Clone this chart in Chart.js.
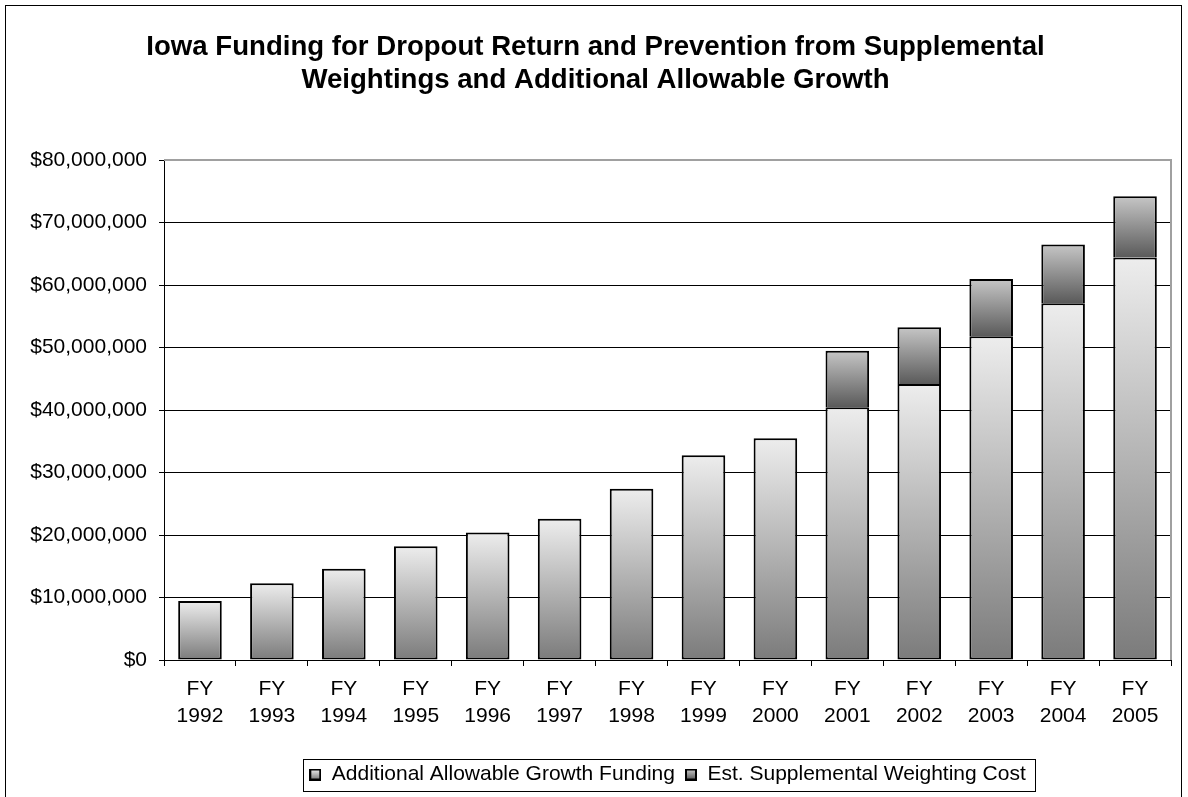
<!DOCTYPE html>
<html>
<head>
<meta charset="utf-8">
<title>Iowa Dropout Funding</title>
<script src="https://cdn.jsdelivr.net/npm/chart.js@4.4.1/dist/chart.umd.min.js"></script>
<style>
    html, body { margin: 0; padding: 0; background: #fff; }
    #wrap { width: 1188px; height: 797px; position: relative; }
</style>
</head>
<body>
<div id="wrap"><canvas id="chart" width="1188" height="797"></canvas></div>
<script>
const FONT = '"Liberation Sans", Arial, sans-serif';

const fiscalYears = ['1992', '1993', '1994', '1995', '1996', '1997', '1998',
    '1999', '2000', '2001', '2002', '2003', '2004', '2005'];

// dollars per fiscal year
const growthFunding = [9450000, 12300000, 14600000, 18200000, 20400000, 22600000, 27400000,
    32750000, 35500000, 40450000, 44150000, 51800000, 57100000, 64400000];
const supplementalCost = [null, null, null, null, null, null, null,
    null, null, 9050000, 9100000, 9150000, 9400000, 9800000];

const yTicks = [0, 10000000, 20000000, 30000000, 40000000, 50000000, 60000000, 70000000, 80000000];

const SERIES_NAMES = ['Additional Allowable Growth Funding', 'Est. Supplemental Weighting Cost'];
const SHADES = [
    { top: '#ededed', bottom: '#7b7b7b' },
    { top: '#c6c6c6', bottom: '#5a5a5a' }
];

// vertical gradient spanning just the one bar segment
function barFill(shade) {
    return (ctx) => {
        const chart = ctx.chart;
        if (!chart.chartArea || ctx.type !== 'data') return shade.bottom;
        const ds = chart.data.datasets;
        let base = 0;
        for (let i = 0; i < ctx.datasetIndex; i++) base += ds[i].data[ctx.dataIndex] || 0;
        const v = ds[ctx.datasetIndex].data[ctx.dataIndex] || 0;
        const y = chart.scales.y;
        const y0 = y.getPixelForValue(base + v);
        const y1 = y.getPixelForValue(base);
        if (y1 - y0 < 1) return shade.bottom;
        const g = chart.ctx.createLinearGradient(0, y0, 0, y1);
        g.addColorStop(0, shade.top);
        g.addColorStop(1, shade.bottom);
        return g;
    };
}

function legendSwatch(shade) {
    const c = document.createElement('canvas');
    c.width = 12; c.height = 12;
    const x = c.getContext('2d');
    const g = x.createLinearGradient(0, 1, 0, 11);
    g.addColorStop(0, shade.top);
    g.addColorStop(1, shade.bottom);
    x.fillStyle = g;
    x.fillRect(1, 1, 10, 10);
    x.strokeStyle = '#000';
    x.lineWidth = 2;
    x.strokeRect(1, 1, 10, 10);
    return c;
}

const swatches = SHADES.map(legendSwatch);

const frames = {
    id: 'frames',
    beforeDraw(chart) {
        const c = chart.ctx;
        c.save();
        c.strokeStyle = '#000';
        c.lineWidth = 1;
        c.strokeRect(5.5, 5.5, 1176, 820);
        c.restore();
    },
    afterDraw(chart) {
        const c = chart.ctx;
        const a = chart.chartArea;
        c.save();
        // plot area outline on the open sides
        c.strokeStyle = '#a0a0a0';
        c.lineWidth = 2;
        c.beginPath();
        c.moveTo(a.left, a.top);
        c.lineTo(a.right, a.top);
        c.lineTo(a.right, a.bottom);
        c.stroke();
        // box round the legend
        const boxes = chart.legend.legendHitBoxes;
        if (boxes && boxes.length) {
            const left = Math.min(...boxes.map(b => b.left)) - 6;
            const right = Math.max(...boxes.map(b => b.left + b.width)) + 10;
            const mid = boxes[0].top + boxes[0].height / 2;
            c.strokeStyle = '#000';
            c.lineWidth = 1;
            c.strokeRect(Math.round(left) + 0.5, Math.round(mid - 16) + 0.5,
                Math.round(right - left), 32);
        }
        c.restore();
    }
};

new Chart(document.getElementById('chart'), {
    type: 'bar',
    data: {
        labels: fiscalYears.map(y => ['FY', y]),
        datasets: [
            {
                label: SERIES_NAMES[0],
                data: growthFunding,
                backgroundColor: barFill(SHADES[0]),
                borderColor: '#000',
                borderWidth: 2,
                borderSkipped: false,
                pointStyle: swatches[0]
            },
            {
                label: SERIES_NAMES[1],
                data: supplementalCost,
                backgroundColor: barFill(SHADES[1]),
                borderColor: '#000',
                borderWidth: 2,
                borderSkipped: 'bottom',
                pointStyle: swatches[1]
            }
        ]
    },
    options: {
        responsive: false,
        animation: false,
        events: [],
        datasets: { bar: { categoryPercentage: 1, barPercentage: 0.606 } },
        layout: { padding: { left: 20, right: 17, top: 0, bottom: 2 } },
        plugins: {
            title: {
                display: true,
                text: ['Iowa Funding for Dropout Return and Prevention from Supplemental',
                    'Weightings and Additional Allowable Growth'],
                color: '#000',
                font: { family: FONT, size: 27.6, weight: 'bold', lineHeight: '33px' },
                padding: { top: 31, bottom: 63 }
            },
            legend: {
                position: 'bottom',
                fullSize: false,
                labels: {
                    color: '#000',
                    font: { family: FONT, size: 21 },
                    usePointStyle: true,
                    boxWidth: 12,
                    boxHeight: 12,
                    padding: 10
                }
            },
            tooltip: { enabled: false }
        },
        scales: {
            x: {
                stacked: true,
                afterFit: s => { s.height = 94; },
                grid: {
                    offset: true,
                    drawOnChartArea: false,
                    drawTicks: true,
                    tickLength: 6,
                    tickColor: '#000'
                },
                border: { color: '#000', width: 1 },
                ticks: {
                    color: '#000',
                    padding: 10,
                    maxRotation: 0,
                    autoSkip: false,
                    font: { family: FONT, size: 21, lineHeight: '27px' }
                }
            },
            y: {
                stacked: true,
                min: 0,
                max: 80000000,
                afterFit: s => { s.width = 144; },
                afterBuildTicks: s => { s.ticks = yTicks.map(v => ({ value: v })); },
                grid: {
                    color: c => (c.tick && c.tick.value === 80000000) ? '#a0a0a0' : '#000',
                    lineWidth: 1,
                    tickLength: 5,
                    tickColor: '#000'
                },
                border: { color: '#000', width: 1 },
                ticks: {
                    color: '#000',
                    padding: 12,
                    font: { family: FONT, size: 21 },
                    callback: v => '$' + Number(v).toLocaleString('en-US')
                }
            }
        }
    },
    plugins: [frames]
});
</script>
</body>
</html>
